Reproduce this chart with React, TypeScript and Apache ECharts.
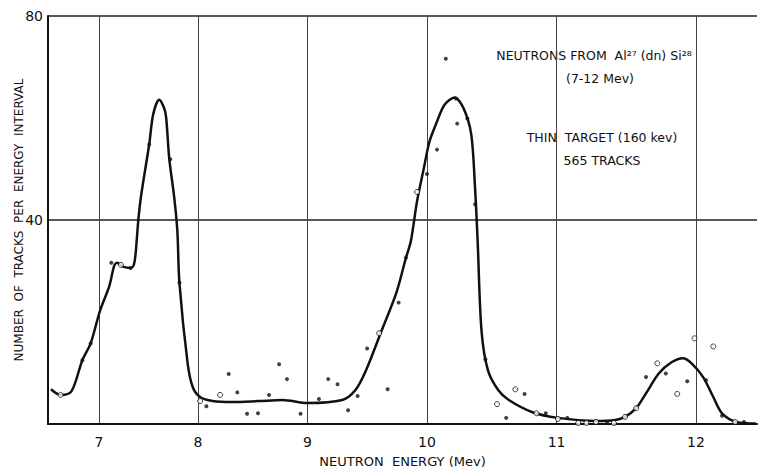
import React, { useEffect, useRef } from "react";
import * as echarts from "echarts";

// Energy axis of the original is drawn on a range-like (power) scale: position ∝ E^P
const P = 1.8;
const tx = (e: number) => Math.pow(e, P);

const xTickEnergies = [7, 8, 9, 10, 11, 12];
const xMinEnergy = 6.437;
const xMaxEnergy = 12.418;
const yTicks = [40, 80];

// smooth fitted curve
const curveEnergy = [
  6.47, 6.58, 6.7, 6.82, 6.91, 7.01, 7.11, 7.16, 7.19, 7.26, 7.33, 7.36, 7.38, 7.41,
  7.44, 7.52, 7.56, 7.62, 7.67, 7.69, 7.72, 7.77, 7.8, 7.82, 7.9, 7.95, 8.02, 8.14,
  8.32, 8.57, 8.78, 9.0, 9.3, 9.41, 9.5, 9.63, 9.75, 9.83, 9.87, 9.92, 9.97, 10.02,
  10.08, 10.14, 10.22, 10.29, 10.35, 10.38, 10.4, 10.43, 10.48, 10.56, 10.64, 10.82,
  11.01, 11.29, 11.43, 11.5, 11.58, 11.65, 11.74, 11.83, 11.91, 11.97, 12.05, 12.12,
  12.18, 12.28, 12.41,
];
const curveCounts = [
  6.8, 5.7, 6.4, 12.5, 15.8, 22.2, 27.1, 31.0, 31.6, 30.8, 30.6, 31.0, 33.0, 40.0,
  45.0, 54.8, 60.7, 63.6, 61.9, 60.0, 52.1, 44.3, 37.8, 27.7, 11.9, 7.2, 5.3, 4.5,
  4.3, 4.5, 4.7, 4.1, 4.7, 6.6, 10.5, 18.3, 25.6, 32.6, 35.9, 43.7, 49.6, 55.4,
  59.3, 62.6, 64.0, 61.9, 56.8, 46.2, 35.9, 18.3, 10.5, 6.6, 4.7, 2.3,
  1.2, 0.6, 0.8, 1.4, 3.1, 6.0, 9.9, 12.1, 12.9, 11.9, 9.2, 5.3,
  2.1, 0.4, 0.1,
];

// measured points drawn as filled dots
const filledEnergy = [
  6.82, 6.91, 7.13, 7.33, 7.52, 7.73, 7.82, 8.08, 8.29, 8.37, 8.46, 8.56, 8.66, 8.75,
  8.82, 8.94, 9.1, 9.18, 9.26, 9.35, 9.43, 9.51, 9.68, 9.77, 9.83, 10.0, 10.08, 10.15,
  10.23, 10.24, 10.32, 10.38, 10.46, 10.62, 10.76, 10.92, 11.08, 11.37, 11.65, 11.79,
  11.94, 12.07, 12.18, 12.33,
];
const filledCounts = [
  12.5, 15.8, 31.6, 30.6, 54.8, 51.9, 27.7, 3.5, 9.8, 6.2, 2.0, 2.1, 5.7, 11.7,
  8.8, 2.0, 4.9, 8.8, 7.8, 2.7, 5.5, 14.8, 6.8, 23.8, 32.6, 49.0, 53.8, 71.6,
  63.8, 58.9, 59.9, 43.1, 12.7, 1.2, 5.9, 2.1, 1.2, 0.4, 9.2, 9.9,
  8.4, 8.6, 1.6, 0.4,
];

// measured points drawn as open circles
const openEnergy = [
  6.58, 7.23, 8.02, 8.21, 9.61, 9.92, 10.55, 10.69, 10.85, 11.01, 11.16, 11.22, 11.29,
  11.42, 11.5, 11.58, 11.73, 11.87, 11.99, 12.12, 12.27,
];
const openCounts = [
  5.7, 31.2, 4.5, 5.7, 17.8, 45.5, 3.9, 6.8, 2.1, 1.0, 0.2, 0.2, 0.4,
  0.2, 1.4, 3.1, 11.9, 5.9, 16.8, 15.2, 0.4,
];

const xLabel = "NEUTRON  ENERGY (Mev)";
const yLabel = "NUMBER  OF  TRACKS  PER  ENERGY  INTERVAL";
const noteLines = ["NEUTRONS FROM  Al²⁷ (dn) Si²⁸", "(7-12 Mev)", "THIN  TARGET (160 kev)", "565 TRACKS"];

const FONT = "DejaVu Sans";

export default function App() {
  const ref = useRef<HTMLDivElement>(null);
  useEffect(() => {
    if (!ref.current) return;
    const chart = echarts.init(ref.current, undefined, { renderer: "svg" });
    const pair = (xs: number[], ys: number[]) => xs.map((e, i) => [tx(e), ys[i]]);
    const noteStyle = (text: string) => ({
      text,
      font: `12.5px "${FONT}"`,
      fill: "#111",
      textAlign: "center",
      textVerticalAlign: "middle",
    });
    chart.setOption({
      animation: false,
      backgroundColor: "#ffffff",
      grid: { left: 48, right: 2, top: 16, bottom: 46, outerBoundsMode: "none", containLabel: false },
      xAxis: {
        type: "value",
        min: tx(xMinEnergy),
        max: tx(xMaxEnergy),
        name: xLabel,
        nameLocation: "middle",
        nameGap: 31,
        nameMoveOverlap: false,
        nameTextStyle: { fontFamily: FONT, fontSize: 13, color: "#111" },
        axisLine: { show: true, onZero: false, lineStyle: { color: "#111", width: 2 } },
        axisTick: { show: false, customValues: xTickEnergies.map(tx) },
        axisLabel: {
          customValues: xTickEnergies.map(tx),
          formatter: (v: number) => String(Math.round(Math.pow(v, 1 / P))),
          fontFamily: FONT,
          fontSize: 14,
          color: "#111",
          margin: 11,
        },
        splitLine: { show: true, lineStyle: { color: "#444", width: 1 } },
      },
      yAxis: {
        type: "value",
        min: 0,
        max: 80,
        interval: 40,
        name: yLabel,
        nameLocation: "middle",
        nameGap: 23,
        nameMoveOverlap: false,
        nameTextStyle: { fontFamily: FONT, fontSize: 12, color: "#111" },
        axisLine: { show: true, lineStyle: { color: "#111", width: 2 } },
        axisTick: { show: false },
        axisLabel: {
          showMinLabel: false,
          fontFamily: FONT,
          fontSize: 14,
          color: "#111",
          margin: 5,
        },
        splitLine: { show: true, lineStyle: { color: "#222", width: 1.5 } },
      },
      series: [
        {
          type: "line",
          data: pair(curveEnergy, curveCounts),
          smooth: 0.3,
          showSymbol: false,
          lineStyle: { color: "#111", width: 2.5 },
          z: 3,
        },
        {
          type: "scatter",
          data: pair(filledEnergy, filledCounts),
          symbol: "circle",
          symbolSize: 4,
          itemStyle: { color: "#111" },
          z: 4,
        },
        {
          type: "scatter",
          data: pair(openEnergy, openCounts),
          symbol: "circle",
          symbolSize: 5,
          itemStyle: { color: "#fff", borderColor: "#111", borderWidth: 1 },
          z: 4,
        },
      ],
      graphic: [
        { type: "text", x: 594, y: 55, style: noteStyle(noteLines[0]) },
        { type: "text", x: 600, y: 78, style: noteStyle(noteLines[1]) },
        { type: "text", x: 602, y: 137, style: noteStyle(noteLines[2]) },
        { type: "text", x: 602, y: 160, style: noteStyle(noteLines[3]) },
      ],
    });
    return () => chart.dispose();
  }, []);
  return (
    <div
      ref={ref}
      style={{ position: "fixed", left: 0, top: 0, width: 759, height: 470 }}
    />
  );
}
